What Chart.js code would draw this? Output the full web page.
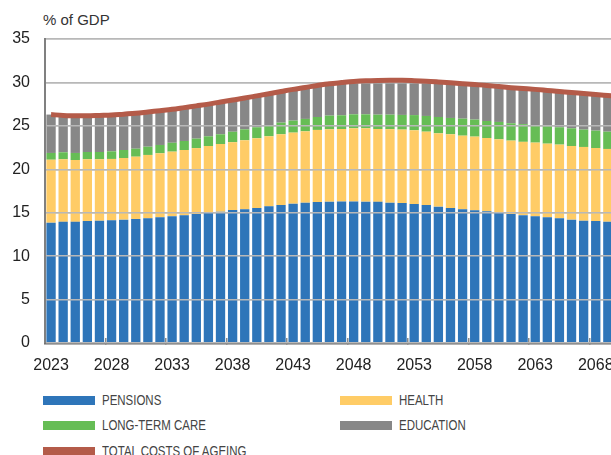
<!DOCTYPE html>
<html>
<head>
<meta charset="utf-8">
<script src="https://cdn.jsdelivr.net/npm/chart.js@4.4.1/dist/chart.umd.min.js"></script>
<style>
  body { margin: 0; overflow: hidden; background: #fff; font-family: "Liberation Sans", Arial, sans-serif; }
  #wrap { position: absolute; left: 0; top: 0; width: 640px; height: 375px; }
  #unit { position: absolute; left: 43px; top: 11px; font-size: 15px; line-height: 17px; color: #333; }
  .leg { position: absolute; height: 20px; display: flex; align-items: center; }
  .leg .sw { width: 52px; height: 9px; margin-right: 7px; flex: none; }
  .leg .tx { font-family: "Liberation Sans", Arial, sans-serif; font-size: 15.5px; color: #444; white-space: nowrap;
             display: inline-block; transform: scaleX(0.74); transform-origin: left center; }
</style>
</head>
<body>
<div id="unit">% of GDP</div>
<div id="wrap"><canvas id="ageingChart"></canvas></div>
<div id="legend"></div>
<script>
// Costs of ageing, % of GDP

const years = [
  "2023","2024","2025","2026","2027","2028","2029","2030","2031","2032",
  "2033","2034","2035","2036","2037","2038","2039","2040","2041","2042",
  "2043","2044","2045","2046","2047","2048","2049","2050","2051","2052",
  "2053","2054","2055","2056","2057","2058","2059","2060","2061","2062",
  "2063","2064","2065","2066","2067","2068","2069","2070"
];

const pensions = [
  13.85, 13.95, 13.95, 14.05, 14.08, 14.12, 14.2, 14.28, 14.35, 14.47,
  14.6, 14.7, 14.85, 15.02, 15.12, 15.3, 15.39, 15.54, 15.73, 15.89,
  16.04, 16.15, 16.23, 16.27, 16.29, 16.29, 16.27, 16.25, 16.15, 16.12,
  16.0, 15.88, 15.7, 15.54, 15.39, 15.27, 15.16, 15.0, 14.85, 14.72,
  14.58, 14.47, 14.35, 14.2, 14.08, 14.04, 13.96, 13.9
];

const health = [
  7.25, 7.2, 7.12, 7.1, 7.07, 7.07, 7.1, 7.17, 7.3, 7.37,
  7.43, 7.52, 7.59, 7.66, 7.79, 7.82, 7.95, 8.03, 8.07, 8.14,
  8.18, 8.22, 8.3, 8.33, 8.35, 8.43, 8.45, 8.39, 8.47, 8.45,
  8.49, 8.45, 8.44, 8.49, 8.48, 8.49, 8.44, 8.45, 8.45, 8.44,
  8.49, 8.48, 8.49, 8.48, 8.49, 8.41, 8.38, 8.35
];

const longTermCare = [
  0.78, 0.81, 0.81, 0.84, 0.84, 0.88, 0.92, 0.92, 0.95, 0.96,
  1.02, 1.04, 1.09, 1.12, 1.12, 1.2, 1.26, 1.27, 1.3, 1.34,
  1.38, 1.43, 1.49, 1.58, 1.58, 1.61, 1.61, 1.65, 1.67, 1.69,
  1.75, 1.81, 1.88, 1.88, 1.96, 1.96, 1.96, 2.0, 2.0, 2.04,
  2.03, 2.0, 2.0, 2.04, 2.0, 2.0, 1.99, 1.97
];

const education = [
  4.42, 4.24, 4.27, 4.16, 4.21, 4.18, 4.13, 4.08, 4.0, 3.95,
  3.85, 3.84, 3.77, 3.7, 3.72, 3.66, 3.6, 3.61, 3.6, 3.58,
  3.6, 3.62, 3.63, 3.67, 3.76, 3.77, 3.85, 3.93, 3.95, 3.98,
  3.96, 4.0, 4.03, 4.04, 4.02, 4.03, 4.09, 4.07, 4.1, 4.1,
  4.1, 4.13, 4.12, 4.13, 4.15, 4.15, 4.17, 4.18
];

const totalCosts = [
  26.3, 26.2, 26.15, 26.15, 26.2, 26.25, 26.35, 26.45, 26.6, 26.75,
  26.9, 27.1, 27.3, 27.5, 27.75, 27.98, 28.2, 28.45, 28.7, 28.95,
  29.2, 29.42, 29.65, 29.85, 29.98, 30.1, 30.18, 30.22, 30.24, 30.24,
  30.2, 30.14, 30.05, 29.95, 29.85, 29.75, 29.65, 29.52, 29.4, 29.3,
  29.2, 29.08, 28.96, 28.85, 28.72, 28.6, 28.5, 28.4
];

const yTicks = [0, 5, 10, 15, 20, 25, 30, 35];

const colors = {
  pensions: "#2e75b9",
  health: "#ffcc66",
  ltc: "#66bd55",
  education: "#878787",
  total: "#b45b49"
};

// gridlines sit over the bars but under the total line
const gridOverBars = {
  id: "gridOverBars",
  beforeDatasetDraw(chart, args) {
    if (args.meta.type === "line") {
      chart.scales.y.drawGrid(chart.chartArea);
    }
  }
};

const ageingCanvas = document.getElementById("ageingChart");

new Chart(ageingCanvas, {
  data: {
    labels: years,
    datasets: [
      {
        type: "line",
        label: "TOTAL COSTS OF AGEING",
        data: totalCosts,
        borderColor: colors.total,
        borderWidth: 5,
        pointRadius: 0,
        cubicInterpolationMode: "monotone",
        stack: "total",
        order: 0
      },
      { type: "bar", label: "PENSIONS", data: pensions, backgroundColor: colors.pensions, stack: "ageing", order: 1 },
      { type: "bar", label: "HEALTH", data: health, backgroundColor: colors.health, stack: "ageing", order: 1 },
      { type: "bar", label: "LONG-TERM CARE", data: longTermCare, backgroundColor: colors.ltc, stack: "ageing", order: 1 },
      { type: "bar", label: "EDUCATION", data: education, backgroundColor: colors.education, stack: "ageing", order: 1 }
    ]
  },
  options: {
    responsive: true,
    maintainAspectRatio: false,
    animation: false,
    layout: { padding: { top: 39, right: 14, left: 0, bottom: 0 } },
    datasets: {
      bar: { categoryPercentage: 1, barPercentage: 0.77 }
    },
    plugins: {
      legend: { display: false },
      tooltip: { enabled: false }
    },
    scales: {
      x: {
        stacked: true,
        z: 1,
        offset: true,
        afterFit: (s) => { s.height = 32; },
        grid: {
          display: true,
          offset: true,
          drawOnChartArea: false,
          drawTicks: true,
          tickLength: -5,
          lineWidth: 1.5,
          color: (ctx) => (ctx.index % 5 === 0 && ctx.index > 0 && ctx.index < years.length) ? "#8a8a8a" : "rgba(0,0,0,0)"
        },
        border: { display: true, color: "#666", width: 2.5 },
        ticks: {
          autoSkip: false,
          maxRotation: 0,
          padding: 18,
          color: "#222",
          font: { family: "'Liberation Sans', Arial, sans-serif", size: 16 },
          callback: (val, i) => (i % 5 === 0 ? years[i] : "")
        }
      },
      y: {
        stacked: true,
        min: 0,
        max: 35,
        afterFit: (s) => { s.width = 45; },
        afterBuildTicks: (s) => { s.ticks = yTicks.map(v => ({ value: v })); },
        grid: { color: "#b8b8b8", lineWidth: 1.5, drawTicks: false },
        border: { display: true, color: "#808080", width: 2 },
        ticks: {
          padding: 15,
          color: "#222",
          font: { family: "'Liberation Sans', Arial, sans-serif", size: 16 }
        }
      }
    }
  },
  plugins: [gridOverBars]
});

// legend in two columns, as in the reference
const legendItems = [
  { label: "PENSIONS", color: colors.pensions, left: 43, top: 390 },
  { label: "HEALTH", color: colors.health, left: 340, top: 390 },
  { label: "LONG-TERM CARE", color: colors.ltc, left: 43, top: 415 },
  { label: "EDUCATION", color: colors.education, left: 340, top: 415 },
  { label: "TOTAL COSTS OF AGEING", color: colors.total, left: 43, top: 441 }
];

const legendBox = document.getElementById("legend");
legendItems.forEach(item => {
  const row = document.createElement("div");
  row.className = "leg";
  row.style.left = item.left + "px";
  row.style.top = item.top + "px";
  row.innerHTML = '<div class="sw" style="background:' + item.color + '"></div><span class="tx">' + item.label + "</span>";
  legendBox.appendChild(row);
});
</script>
</body>
</html>
